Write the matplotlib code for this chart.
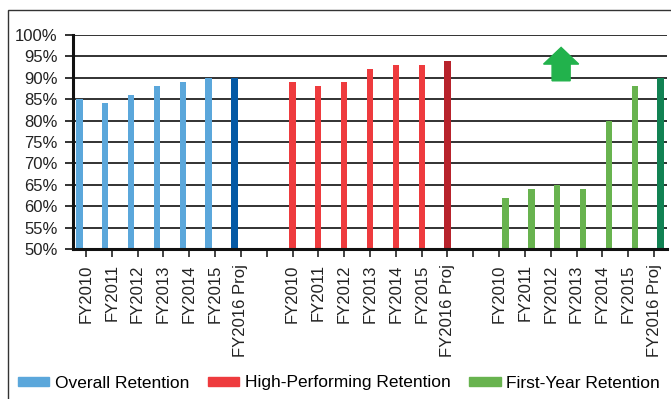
import numpy as np
import matplotlib
matplotlib.use("Agg")
import matplotlib.pyplot as plt
import matplotlib.patches as mpatches
from matplotlib import font_manager

# the reference uses a narrow Arial-like face; use Liberation Sans Narrow if present
try:
    font_manager.findfont("Liberation Sans Narrow", fallback_to_default=False)
    FAMILY, FS = "Liberation Sans Narrow", 14
except Exception:
    FAMILY, FS = "Liberation Sans", 12

plt.rcParams.update({
    "font.family": [FAMILY, "DejaVu Sans"],
    "font.size": FS,
})

years = ["FY2010", "FY2011", "FY2012", "FY2013", "FY2014", "FY2015", "FY2016 Proj"]
overall = [85, 84, 86, 88, 89, 90, 90]
high_perf = [89, 88, 89, 92, 93, 93, 94]
first_year = [62, 64, 65, 64, 80, 88, 90]

series = [
    ("Overall Retention", overall, "#5BA7DB", "#0459A5", -0.25),
    ("High-Performing Retention", high_perf, "#EE3B3E", "#B7232C", 0.0),
    ("First-Year Retention", first_year, "#68B34F", "#118253", 0.25),
]

fig = plt.figure(figsize=(6.71, 3.99), dpi=100)
ax = fig.add_axes([73 / 671, 1 - 249 / 399, 594 / 671, 214 / 399])

# outer frame (cropped on the right and bottom)
fig.patches.append(mpatches.Rectangle((8 / 671, -0.1), 1.2, 1.1 - 10 / 399,
                                      transform=fig.transFigure, fill=False,
                                      edgecolor="#333333", linewidth=1.0))

n_years = len(years)
tick_labels = []
for g, (name, vals, col, dark, off) in enumerate(series):
    x = np.arange(n_years) + g * (n_years + 1)
    colors = [col] * (n_years - 1) + [dark]
    ax.bar(x + off, vals, width=0.24, color=colors, label=name, zorder=3)
    tick_labels += years + ([""] if g < len(series) - 1 else [])

ax.set_xticks(np.arange(len(tick_labels)))
ax.set_xticklabels(tick_labels, rotation=90, color="#222222")
ax.set_xlim(-0.5, len(tick_labels) - 0.5)

ax.set_ylim(50, 100)
ax.set_yticks(np.arange(50, 101, 5))
ax.set_yticklabels([f"{v}%" for v in range(50, 101, 5)], color="#222222")
ax.yaxis.grid(True, color="#222222", linewidth=1.3, zorder=0)
ax.set_axisbelow(True)

for s in ["top", "right"]:
    ax.spines[s].set_visible(False)
for s in ["left", "bottom"]:
    ax.spines[s].set_linewidth(2.2)
    ax.spines[s].set_color("#111111")
    ax.spines[s].set_zorder(4)
ax.tick_params(axis="y", length=6, width=1.3, color="#222222", pad=5)
ax.tick_params(axis="x", length=6, width=1.2, color="#222222", pad=5)

# green "up" arrow over the first-year group
ax.add_patch(mpatches.FancyArrow(18.4, 89.3, 0, 7.8, width=0.70, head_width=1.36,
                                 head_length=3.9, length_includes_head=True,
                                 color="#22B24C", zorder=5, clip_on=False))

handles = [mpatches.Patch(color=c, label=n) for n, _, c, _, _ in series]
fig.legend(handles=handles, loc="center", bbox_to_anchor=(0.505, 1 - 383 / 399),
           ncol=3, frameon=False, handlelength=1.8, handleheight=0.45,
           handletextpad=0.3, columnspacing=1.1, fontsize=FS + 0.5)

fig.savefig("out.png", dpi=100)
